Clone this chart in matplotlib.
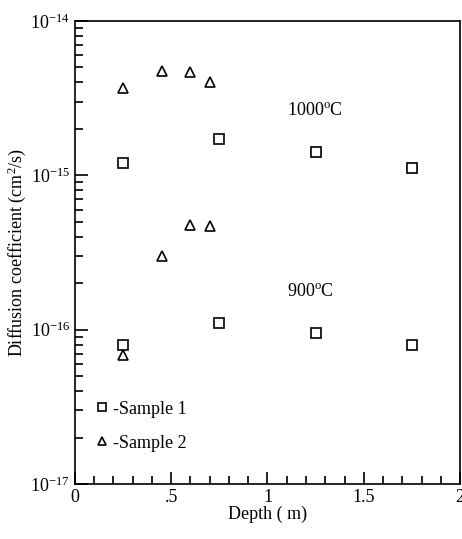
import matplotlib.pyplot as plt
import numpy as np
from matplotlib.ticker import FixedLocator, LogLocator, NullFormatter, FuncFormatter

plt.rcParams['font.family'] = ['Liberation Serif', 'DejaVu Serif']
plt.rcParams['mathtext.fontset'] = 'custom'
plt.rcParams['mathtext.rm'] = 'Liberation Serif'
plt.rcParams['mathtext.it'] = 'Liberation Serif:italic'

# Data
s1_depth = [0.25, 0.75, 1.25, 1.75]
s1_1000 = [1.21e-15, 1.71e-15, 1.42e-15, 1.12e-15]
s1_900 = [7.9e-17, 1.11e-16, 9.5e-17, 7.9e-17]

s2_depth = [0.25, 0.45, 0.6, 0.7]
s2_1000 = [3.66e-15, 4.77e-15, 4.65e-15, 4.05e-15]
s2_900 = [6.9e-17, 3.0e-16, 4.8e-16, 4.7e-16]

xtick_vals = [0, 0.5, 1, 1.5, 2]
xtick_labels = ['0', '.5', '1', '1.5', '2']

fig = plt.figure(figsize=(4.62, 5.39), dpi=100)
ax = fig.add_axes([0.162, 0.102, 0.834, 0.859])

mk = dict(linestyle='none', markerfacecolor='none', markeredgecolor='black',
          markeredgewidth=1.2, markersize=7.5)
ax.plot(s1_depth, s1_1000, marker='s', label='-Sample 1', **mk)
ax.plot(s1_depth, s1_900, marker='s', **mk)
ax.plot(s2_depth, s2_1000, marker='^', label='-Sample 2', **mk)
ax.plot(s2_depth, s2_900, marker='^', **mk)

ax.set_yscale('log')
ax.set_ylim(1e-17, 1e-14)
ax.set_xlim(0, 2)

ax.xaxis.set_major_locator(FixedLocator(xtick_vals))
ax.set_xticklabels(xtick_labels)
ax.xaxis.set_minor_locator(FixedLocator(np.arange(0, 2.01, 0.1)))

ax.yaxis.set_major_locator(LogLocator(base=10, numticks=10))
ax.yaxis.set_minor_locator(LogLocator(base=10, subs=np.arange(2, 10), numticks=10))
ax.yaxis.set_minor_formatter(NullFormatter())
ax.yaxis.set_major_formatter(FuncFormatter(lambda v, p: r'$10^{%d}$' % round(np.log10(v))))

ax.tick_params(which='both', direction='in', top=False, right=False, labelsize=13, width=1.2)
ax.tick_params(which='major', length=9)
ax.tick_params(which='minor', length=6)
for sp in ax.spines.values():
    sp.set_linewidth(1.2)

ax.text(1.1, 2.45e-15, '1000$^{\\rm o}$C', fontsize=13)
ax.text(1.1, 1.65e-16, '900$^{\\rm o}$C', fontsize=13)

ax.set_xlabel('Depth ( m)', fontsize=13, labelpad=0)
ax.set_ylabel('Diffusion coefficient (cm$^2$/s)', fontsize=13, labelpad=2)

ax.legend(loc='lower left', bbox_to_anchor=(0.014, 0.035), frameon=False, fontsize=13,
          handlelength=0.6, handletextpad=0.3, labelspacing=0.94, markerscale=0.85)

fig.savefig('out.png', dpi=100)
